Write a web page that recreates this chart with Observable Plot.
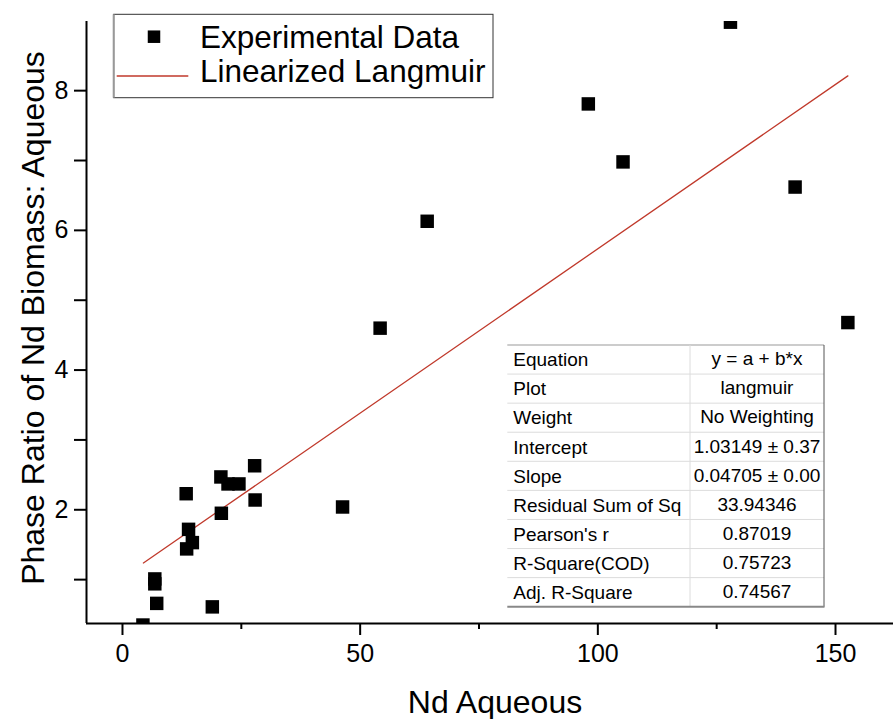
<!DOCTYPE html>
<html><head><meta charset="utf-8">
<script src="https://cdn.jsdelivr.net/npm/d3@7"></script>
<script src="https://cdn.jsdelivr.net/npm/@observablehq/plot@0.6"></script>
<style>
html,body{margin:0;padding:0;background:#fff;}
svg{display:block;}
</style></head><body><div id="chart"></div>
<script>
// ---- data ----
const ndAqueous  = [4.3, 6.8, 6.8, 7.2, 13.4, 13.5, 13.9, 14.7, 18.9, 20.7, 20.8, 22.2, 24.5, 27.8, 27.9, 46.3, 54.2, 64.1, 98.0, 105.3, 127.9, 141.5, 152.6];
const phaseRatio = [0.35, 1.01, 0.94, 0.66, 2.23, 1.44, 1.72, 1.53, 0.61, 2.47, 1.95, 2.37, 2.37, 2.63, 2.14, 2.04, 4.60, 6.13, 7.81, 6.98, 8.98, 6.62, 4.68];
const fitRangeX = [4.4, 152.6];
const fitIntercept = 1.03149;
const fitSlope = 0.04705;
const xMajorTicks = [0, 50, 100, 150];
const xMinorTicks = [25, 75, 125];
const yMajorTicks = [2, 4, 6, 8];
const yMinorTicks = [1, 3, 5, 7];
const legendLabels = ["Experimental Data", "Linearized Langmuir"];
const tableLabels = ["Equation", "Plot", "Weight", "Intercept", "Slope", "Residual Sum of Sq", "Pearson's r", "R-Square(COD)", "Adj. R-Square"];
const tableValues = ["y = a + b*x", "langmuir", "No Weighting", "1.03149 \u00b1 0.37", "0.04705 \u00b1 0.00", "33.94346", "0.87019", "0.75723", "0.74567"];
const xTitle = "Nd Aqueous";
const yTitle = "Phase Ratio of Nd Biomass: Aqueous";

const points = ndAqueous.map((x, i) => ({x, y: phaseRatio[i]}));
const fit = fitRangeX.map(x => ({x, y: fitIntercept + fitSlope * x}));

const W = 893, H = 719, mL = 86, mR = 0, mT = 21, mB = 96;
const xDomain = [-7.57, 162.2], yDomain = [0.372, 8.99];
const FONT = "'Liberation Sans', Arial, sans-serif";
const RED = "#c0392b";

const plot = Plot.plot({
  width: W, height: H,
  marginLeft: mL, marginRight: mR, marginTop: mT, marginBottom: mB,
  style: {fontFamily: FONT, background: "white", color: "black", overflow: "visible"},
  x: {domain: xDomain},
  y: {domain: yDomain},
  marks: [
    Plot.line(fit, {x: "x", y: "y", stroke: RED, strokeWidth: 1.3}),
    Plot.dot(points, {x: "x", y: "y", symbol: "square", r: 7.6, fill: "black", stroke: "none", clip: true}),
    Plot.ruleY([yDomain[0]], {stroke: "black", strokeWidth: 2}),
    Plot.ruleX([xDomain[0]], {stroke: "black", strokeWidth: 2}),
    Plot.axisX(xMajorTicks, {tickSize: 12, tickPadding: 9, fontSize: 25, strokeWidth: 2, label: null, tickFormat: d => String(d)}),
    Plot.axisX(xMinorTicks, {tickSize: 6, text: null, strokeWidth: 2, label: null}),
    Plot.axisY(yMajorTicks, {tickSize: 12, tickPadding: 6, fontSize: 25, strokeWidth: 2, label: null, tickFormat: d => String(d)}),
    Plot.axisY(yMinorTicks, {tickSize: 12, text: null, strokeWidth: 2, label: null})
  ]
});
document.getElementById("chart").appendChild(plot);

const svg = d3.select(plot);
const g = svg.append("g").attr("font-family", FONT).attr("fill", "black").attr("text-anchor", "start");

// axis titles
g.append("text").attr("x", 495).attr("y", 713).attr("text-anchor", "middle")
  .attr("font-size", 32).text(xTitle);
g.append("text").attr("transform", "translate(44,318) rotate(-90)").attr("text-anchor", "middle")
  .attr("font-size", 32).text(yTitle);

// legend
const lg = g.append("g");
lg.append("rect").attr("x", 113.7).attr("y", 14.3).attr("width", 493 - 113.7).attr("height", 97.7 - 14.3)
  .attr("fill", "white").attr("stroke", "#333").attr("stroke-width", 1);
lg.append("line").attr("x1", 113.7).attr("x2", 113.7).attr("y1", 14.3).attr("y2", 97.7).attr("stroke", "#999").attr("stroke-width", 2);
lg.append("rect").attr("x", 154 - 6.25).attr("y", 36.7 - 6.25).attr("width", 12.5).attr("height", 12.5).attr("fill", "black");
lg.append("line").attr("x1", 116.7).attr("x2", 188.3).attr("y1", 76).attr("y2", 76).attr("stroke", RED).attr("stroke-width", 1.3);
lg.append("text").attr("x", 200).attr("y", 48).attr("font-size", 31.5).attr("text-anchor", "start").text(legendLabels[0]);
lg.append("text").attr("x", 200).attr("y", 82).attr("font-size", 31.5).attr("text-anchor", "start").text(legendLabels[1]);

// fit table
const tx0 = 507.3, tx1 = 824, ty0 = 345, ty1 = 606.7, tcol = 690;
const rh = (ty1 - ty0) / tableLabels.length;
const tg = g.append("g");
tg.append("rect").attr("x", tx0).attr("y", ty0).attr("width", tx1 - tx0).attr("height", ty1 - ty0).attr("fill", "white");
for (let k = 1; k < tableLabels.length; k++) {
  tg.append("line").attr("x1", tx0).attr("x2", tx1).attr("y1", ty0 + k * rh).attr("y2", ty0 + k * rh)
    .attr("stroke", "#dcdcdc").attr("stroke-width", 1);
}
tg.append("line").attr("x1", tx0).attr("x2", tx1).attr("y1", ty0).attr("y2", ty0).attr("stroke", "#999").attr("stroke-width", 1);
tg.append("line").attr("x1", tcol).attr("x2", tcol).attr("y1", ty0).attr("y2", ty1).attr("stroke", "#dcdcdc").attr("stroke-width", 1);
tg.append("line").attr("x1", tx1).attr("x2", tx1).attr("y1", ty0).attr("y2", ty1).attr("stroke", "#555").attr("stroke-width", 1);
tg.append("line").attr("x1", tx0).attr("x2", tx1 + 0.5).attr("y1", ty1).attr("y2", ty1).attr("stroke", "#888").attr("stroke-width", 2);
tableLabels.forEach((t, k) => {
  tg.append("text").attr("x", 513.3).attr("y", ty0 + k * rh + 21.3).attr("font-size", 19)
    .attr("text-anchor", "start").text(t);
  tg.append("text").attr("x", (tcol + tx1) / 2).attr("y", ty0 + k * rh + 20.3).attr("font-size", 19)
    .attr("text-anchor", "middle").text(tableValues[k]);
});
</script>
</body></html>
